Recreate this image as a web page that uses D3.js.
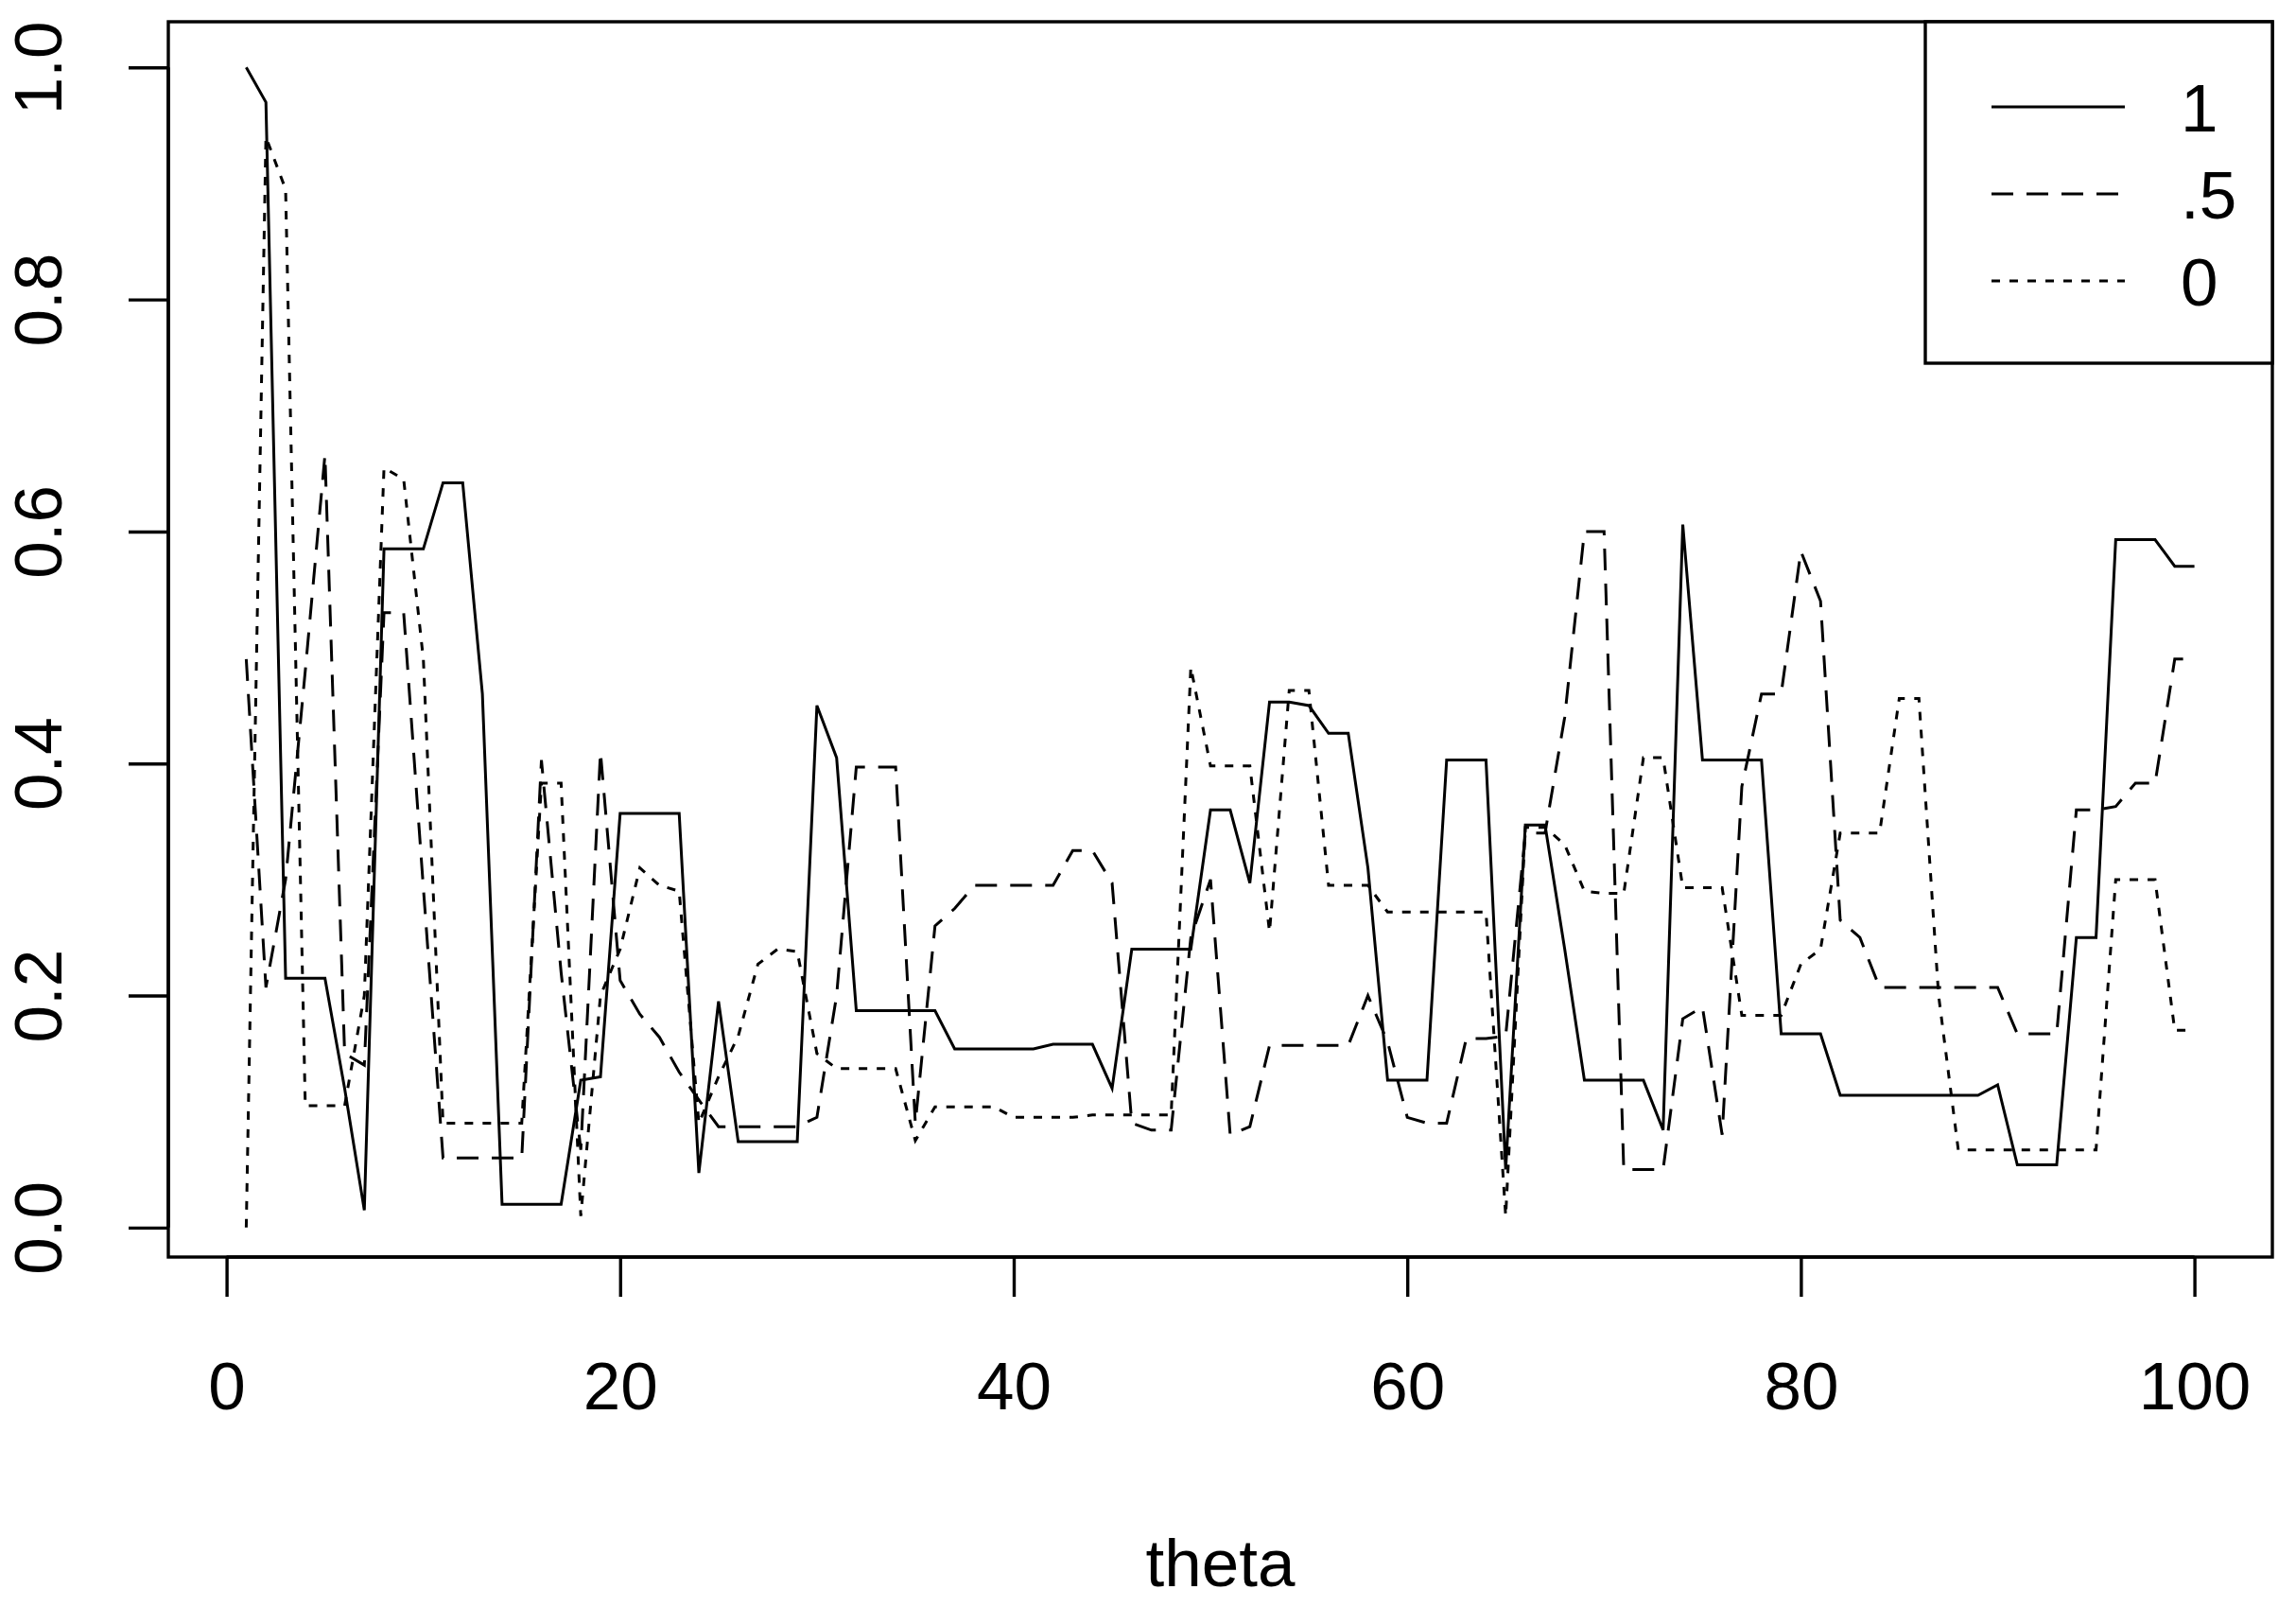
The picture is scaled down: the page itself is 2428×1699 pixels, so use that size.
<!DOCTYPE html>
<html>
<head>
<meta charset="utf-8">
<script src="https://cdn.jsdelivr.net/npm/d3@7"></script>
<style>
body { margin: 0; background: #fff; }
text { font-family: "Liberation Sans", Arial, sans-serif; fill: #000; }
</style>
</head>
<body>
<svg id="chart" width="2428" height="1699"></svg>
<script>
// theta index and the three series
const theta = d3.range(1, 101);

const s1 = [1.00,0.97,0.215,0.215,0.215,0.12,0.015,0.585,0.585,0.585,
  0.642,0.642,0.46,0.02,0.02,0.02,0.02,0.127,0.13,0.357,
  0.357,0.357,0.357,0.047,0.195,0.074,0.074,0.074,0.074,0.45,
  0.405,0.187,0.187,0.187,0.187,0.187,0.154,0.154,0.154,0.154,
  0.154,0.158,0.158,0.158,0.12,0.24,0.24,0.24,0.24,0.36,
  0.36,0.297,0.453,0.453,0.45,0.426,0.426,0.31,0.127,0.127,
  0.127,0.403,0.403,0.403,0.05,0.347,0.347,0.24,0.127,0.127,
  0.127,0.127,0.084,0.606,0.403,0.403,0.403,0.403,0.167,0.167,
  0.167,0.114,0.114,0.114,0.114,0.114,0.114,0.114,0.114,0.123,
  0.054,0.054,0.054,0.25,0.25,0.593,0.593,0.593,0.57,0.57];

const s05 = [0.49,0.207,0.30,0.48,0.666,0.15,0.14,0.53,0.53,0.293,
  0.06,0.06,0.06,0.06,0.06,0.403,0.22,0.067,0.41,0.213,
  0.184,0.164,0.134,0.11,0.087,0.087,0.087,0.087,0.087,0.095,
  0.2,0.397,0.397,0.397,0.09,0.26,0.275,0.295,0.295,0.295,
  0.295,0.295,0.325,0.325,0.297,0.09,0.084,0.084,0.25,0.30,
  0.08,0.087,0.157,0.157,0.157,0.157,0.157,0.2,0.16,0.095,
  0.09,0.09,0.163,0.163,0.165,0.34,0.34,0.44,0.6,0.6,
  0.05,0.05,0.05,0.18,0.19,0.08,0.38,0.46,0.46,0.583,
  0.54,0.265,0.25,0.207,0.207,0.207,0.207,0.207,0.207,0.207,
  0.167,0.167,0.167,0.36,0.36,0.363,0.383,0.383,0.49,0.49];

const s0 = [0.0,0.94,0.895,0.105,0.105,0.105,0.2,0.655,0.645,0.49,
  0.09,0.09,0.09,0.09,0.09,0.383,0.383,0.01,0.2,0.24,
  0.31,0.295,0.29,0.09,0.13,0.165,0.227,0.24,0.238,0.15,
  0.137,0.137,0.137,0.137,0.075,0.104,0.104,0.104,0.104,0.095,
  0.095,0.095,0.095,0.097,0.097,0.097,0.097,0.097,0.483,0.398,
  0.398,0.398,0.255,0.463,0.463,0.295,0.295,0.295,0.272,0.272,
  0.272,0.272,0.272,0.272,0.01,0.345,0.345,0.33,0.29,0.288,
  0.288,0.405,0.405,0.293,0.293,0.293,0.183,0.183,0.183,0.227,
  0.24,0.34,0.34,0.34,0.456,0.456,0.2,0.067,0.067,0.067,
  0.067,0.067,0.067,0.067,0.067,0.30,0.30,0.30,0.17,0.17];

const xTicks = [0, 20, 40, 60, 80, 100];
const yTicks = [0.0, 0.2, 0.4, 0.6, 0.8, 1.0];
const seriesNames = ["1", ".5", "0"];
const dashes = ["none", "23,14", "9,10"];

// plot region
const plotL = 178, plotR = 2403, plotT = 23, plotB = 1329;

const x = d3.scaleLinear().domain([1 - 0.04 * 99, 100 + 0.04 * 99]).range([plotL, plotR]);
const y = d3.scaleLinear().domain([-0.0254, 1.0394]).range([plotB, plotT]);

const svg = d3.select("#chart");

const line = d3.line()
  .x((d, i) => x(theta[i]))
  .y(d => y(d));

[s1, s05, s0].forEach((s, k) => {
  svg.append("path")
    .attr("d", line(s))
    .attr("fill", "none")
    .attr("stroke", "#000")
    .attr("stroke-width", 3)
    .attr("stroke-dasharray", dashes[k]);
});

// box
svg.append("rect")
  .attr("x", plotL).attr("y", plotT)
  .attr("width", plotR - plotL).attr("height", plotB - plotT)
  .attr("fill", "none").attr("stroke", "#000").attr("stroke-width", 3.4);

// x axis
const xAxis = svg.append("g")
  .attr("transform", `translate(0,${plotB})`)
  .call(d3.axisBottom(x).tickValues(xTicks).tickSize(42).tickPadding(69).tickFormat(d3.format("d")));
xAxis.select(".domain").attr("stroke-width", 3.4).attr("d", `M${x(0)},0H${x(100)}`);
xAxis.selectAll(".tick line").attr("stroke-width", 3.4);
xAxis.selectAll("text").style("font-size", "71px").attr("font-family", null);

// y axis, labels rotated like R
const yAxis = svg.append("g")
  .attr("transform", `translate(${plotL},0)`)
  .call(d3.axisLeft(y).tickValues(yTicks).tickSize(42).tickFormat(d3.format(".1f")));
yAxis.select(".domain").attr("stroke-width", 3.4).attr("d", `M0,${y(0)}V${y(1)}`);
yAxis.selectAll(".tick line").attr("stroke-width", 3.4);
yAxis.selectAll("text")
  .style("font-size", "71px").attr("font-family", null)
  .attr("x", 0).attr("y", 0).attr("dy", null)
  .attr("text-anchor", "middle")
  .attr("dominant-baseline", "middle")
  .attr("transform", "translate(-132,0) rotate(-90)");

svg.append("text")
  .attr("x", (plotL + plotR) / 2).attr("y", 1677)
  .attr("text-anchor", "middle")
  .style("font-size", "71px")
  .text("theta");

// legend
const lg = svg.append("g");
lg.append("rect")
  .attr("x", 2036).attr("y", plotT)
  .attr("width", plotR - 2036).attr("height", 384 - plotT)
  .attr("fill", "#fff").attr("stroke", "#000").attr("stroke-width", 3.4);
seriesNames.forEach((name, k) => {
  const ly = 113 + k * 92;
  lg.append("line")
    .attr("x1", 2106).attr("x2", 2247).attr("y1", ly).attr("y2", ly)
    .attr("stroke", "#000").attr("stroke-width", 3)
    .attr("stroke-dasharray", dashes[k]);
  lg.append("text")
    .attr("x", 2306).attr("y", ly + 26)
    .style("font-size", "71px")
    .text(name);
});
</script>
</body>
</html>
